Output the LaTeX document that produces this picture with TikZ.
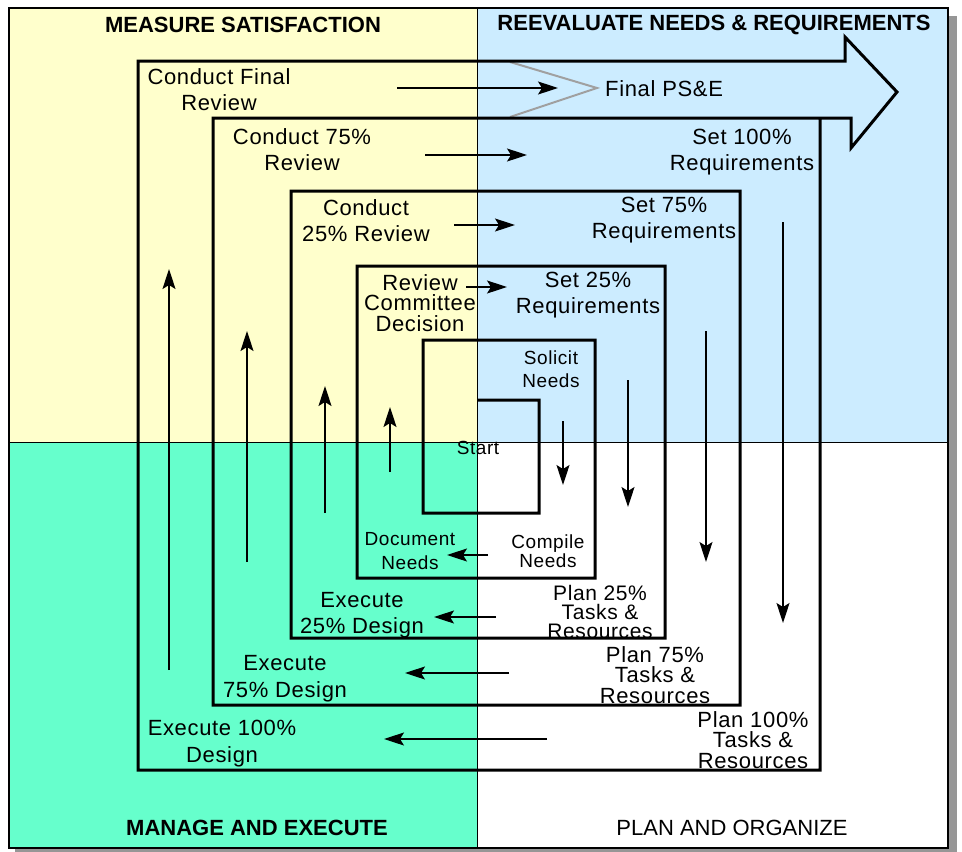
\documentclass[tikz,border=0pt]{standalone}
\usepackage{fontspec}
\setmainfont{Liberation Sans}
\newfontfamily\lblfont[LetterSpace=3]{Liberation Sans}
\usetikzlibrary{arrows.meta}
\definecolor{qyellow}{RGB}{255,255,204}
\definecolor{qblue}{RGB}{204,236,255}
\definecolor{qaqua}{RGB}{102,255,204}
\definecolor{shadowgray}{RGB}{150,150,150}
\definecolor{chevgray}{RGB}{160,160,160}
\begin{document}
\begin{tikzpicture}[x=1pt,y=-1pt,
  spiral/.style={line width=3pt, line join=miter},
  flow/.style={line width=1.3pt, -{Stealth[length=20pt,width=13pt,inset=4pt]}},
  lbl/.style={align=center, inner sep=0pt, font=\lblfont\fontsize{22}{26}\selectfont},
  lbltight/.style={align=center, inner sep=0pt, font=\lblfont\fontsize{22}{20.5}\selectfont},
  lblsmall/.style={align=center, inner sep=0pt, font=\lblfont\fontsize{19}{23}\selectfont},
  head/.style={inner sep=0pt, font=\bfseries\fontsize{22}{26}\selectfont},
  headplain/.style={inner sep=0pt, font=\fontsize{22}{26}\selectfont}
]
\useasboundingbox (0,0) rectangle (962,852);
% frame shadow and quadrants
\fill[shadowgray] (15,16) rectangle (957,852);
\fill[qyellow] (9,8) rectangle (477,442);
\fill[qblue] (477,8) rectangle (948,442);
\fill[qaqua] (9,442) rectangle (477,848);
\fill[white] (477,442) rectangle (948,848);
\draw[line width=1pt] (477,8) -- (477,848);
\draw[line width=1pt] (9,442) -- (948,442);
\draw[line width=1.3pt] (9,8) rectangle (948,848);

% grey chevron
\draw[chevgray, line width=2pt] (510,62) -- (597,88) -- (510,117);

% spiral
\draw[spiral] (477,400) -- (539,400) -- (539,513) -- (423,513) -- (423,340)
  -- (595,340) -- (595,578) -- (357,578) -- (357,266) -- (665,266) -- (665,638)
  -- (291,638) -- (291,191) -- (740,191) -- (740,705) -- (213,705) -- (213,118)
  -- (820,118) -- (820,770) -- (138,770) -- (138,61) -- (845,61) -- (845,37)
  -- (897,92) -- (851,148) -- (851,118) -- (820,118);

% arrow end points
\coordinate (a1s) at (397,88);  \coordinate (a1e) at (558,88);
\coordinate (a2s) at (425,155); \coordinate (a2e) at (527,155);
\coordinate (a3s) at (454,225); \coordinate (a3e) at (515,225);
\coordinate (a4s) at (466,287); \coordinate (a4e) at (507,287);
\coordinate (d1s) at (563,421); \coordinate (d1e) at (563,485);
\coordinate (d2s) at (628,380); \coordinate (d2e) at (628,507);
\coordinate (d3s) at (706,331); \coordinate (d3e) at (706,562);
\coordinate (d4s) at (783,222); \coordinate (d4e) at (783,623);
\coordinate (l1s) at (488,555); \coordinate (l1e) at (447,555);
\coordinate (l2s) at (496,617); \coordinate (l2e) at (434,617);
\coordinate (l3s) at (509,673); \coordinate (l3e) at (405,673);
\coordinate (l4s) at (547,739); \coordinate (l4e) at (384,739);
\coordinate (u1s) at (390,472); \coordinate (u1e) at (390,407);
\coordinate (u2s) at (325,513); \coordinate (u2e) at (325,386);
\coordinate (u3s) at (247,562); \coordinate (u3e) at (247,331);
\coordinate (u4s) at (169,670); \coordinate (u4e) at (169,269);
\foreach \a in {a1,a2,a3,a4,d1,d2,d3,d4,l1,l2,l3,l4,u1,u2,u3,u4}
  \draw[flow] (\a s) -- (\a e);

% headings
\node[head] (hms) at (243,25) {MEASURE SATISFACTION};
\node[head] (hre) at (714,25) {REEVALUATE NEEDS \& REQUIREMENTS};
\node[head] (hme) at (257,828) {MANAGE AND EXECUTE};
\node[headplain] (hpo) at (732,828) {PLAN AND ORGANIZE};

% labels
\node[lbl] (cfr) at (219,90) {Conduct Final\\Review};
\node[lbl] (c75) at (302,150) {Conduct 75\%\\Review};
\node[lbl] (c25) at (366,221) {Conduct\\25\% Review};
\node[lbltight] (rcd) at (420,303) {Review\\Committee\\Decision};
\node[lbl] (s25) at (588,295) {Set 25\%\\Requirements};
\node[lbl] (s75) at (664,220) {Set 75\%\\Requirements};
\node[lbl] (s100) at (742,152) {Set 100\%\\Requirements};
\node[lbl, anchor=west] (fps) at (605,89) {Final PS\&E};
\node[lblsmall] (sol) at (551,369) {Solicit\\Needs};
\node[lblsmall] (st) at (478,448) {Start};
\node[lblsmall, font=\lblfont\fontsize{19}{17.5}\selectfont] (cmp) at (548,551) {Compile\\Needs};
\node[lblsmall, font=\lblfont\fontsize{19}{24}\selectfont] (doc) at (410,551) {Document\\Needs};
\node[lbl] (e25) at (362,615) {Execute\\25\% Design};
\node[lbl, font=\lblfont\fontsize{22}{27}\selectfont] (e75) at (285,679) {Execute\\75\% Design};
\node[lbl, font=\lblfont\fontsize{22}{27}\selectfont] (e100) at (222,744) {Execute 100\%\\Design};
\node[lbltight, font=\lblfont\fontsize{21}{19}\selectfont] (p25) at (600,612) {Plan 25\%\\Tasks \&\\Resources};
\node[lbltight] (p75) at (655,675) {Plan 75\%\\Tasks \&\\Resources};
\node[lbltight] (p100) at (753,740) {Plan 100\%\\Tasks \&\\Resources};
\end{tikzpicture}
\end{document}
